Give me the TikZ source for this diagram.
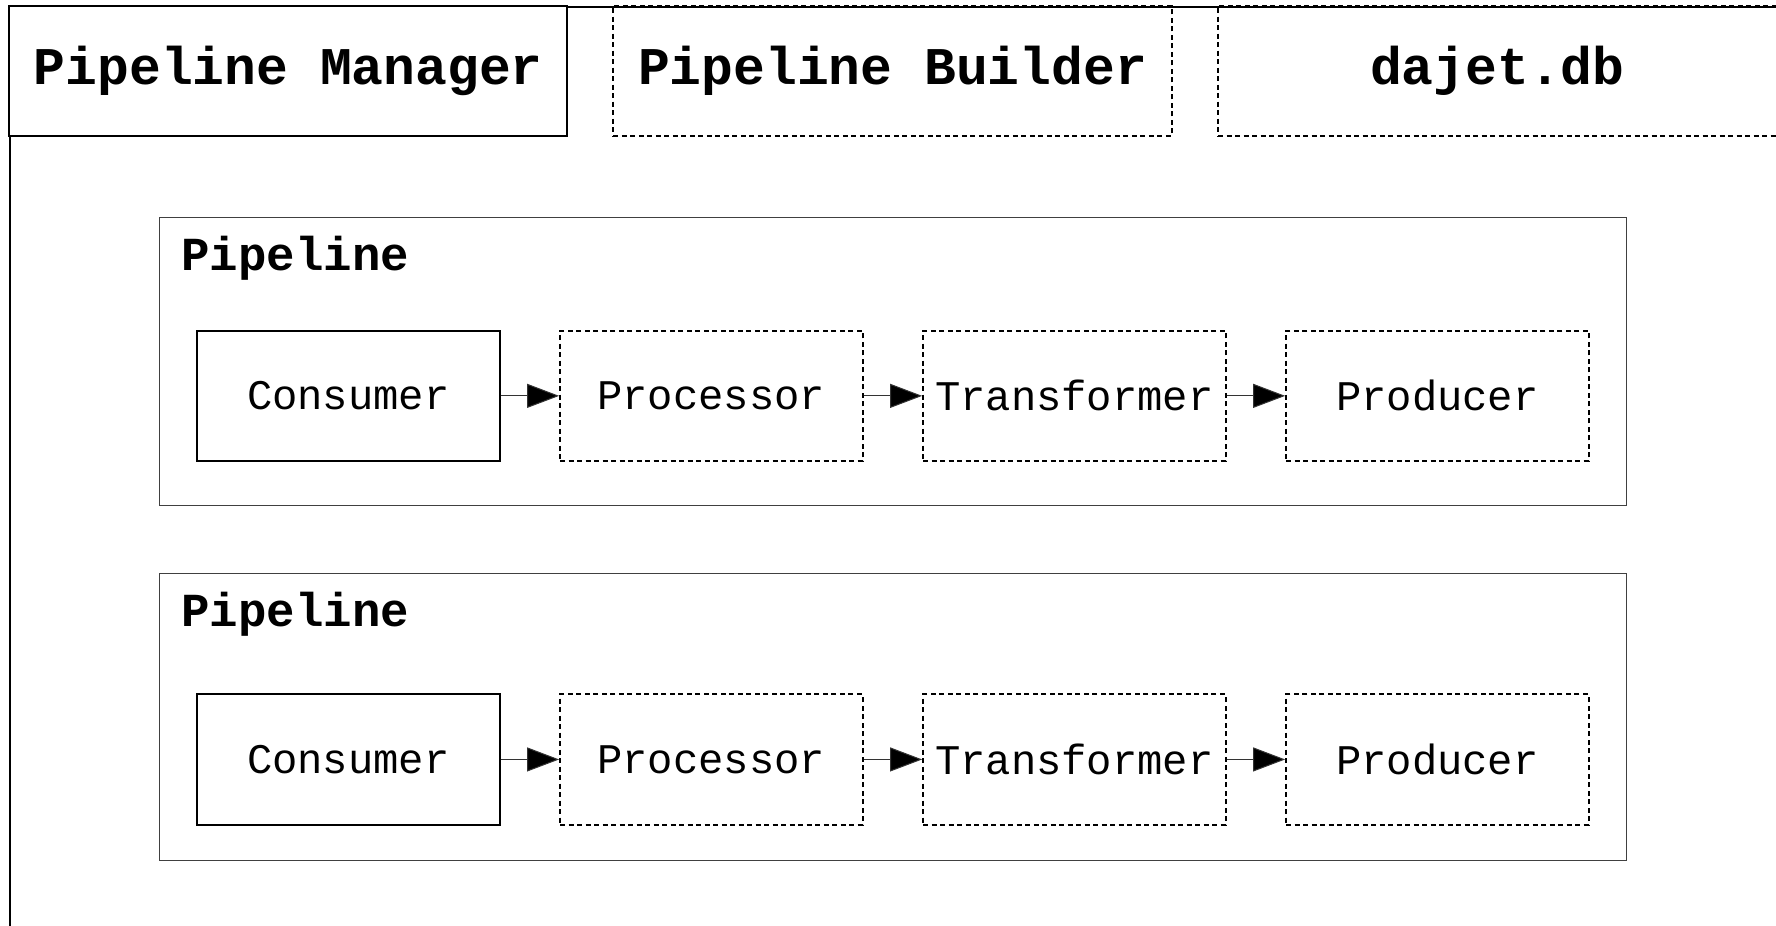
\documentclass[tikz,border=0pt]{standalone}
\usepackage{fontspec}
\setmainfont{Liberation Mono}
\usetikzlibrary{arrows.meta}
\begin{document}
\begin{tikzpicture}[x=1.1327pt,y=-1.1327pt,
  hdr/.style={draw=black,line width=2pt,minimum width=493*1.1327pt,minimum height=115*1.1327pt,inner sep=0pt,font=\fontsize{53}{60}\selectfont\bfseries},
  hdrdash/.style={hdr,dash pattern=on 5pt off 3.5pt},
  cont/.style={draw=black!75,line width=1.1pt,minimum width=1295*1.1327pt,minimum height=254*1.1327pt,inner sep=0pt},
  plabel/.style={anchor=west,inner sep=0pt,font=\fontsize{47.4}{52}\selectfont\bfseries},
  stage/.style={draw=black,line width=2pt,minimum width=267*1.1327pt,minimum height=115*1.1327pt,inner sep=0pt,font=\fontsize{42.2}{48}\selectfont},
  stagedash/.style={stage,dash pattern=on 5pt off 3.5pt},
  flow/.style={draw=black!80,line width=1pt,-{Triangle[length=32pt,width=24pt,fill=black]}}
]
\useasboundingbox (0,0) rectangle (1568,817);
\fill[white] (0,0) rectangle (1568,817);
% outer frame (extends past the page)
\node[draw=black,line width=2pt,minimum width=1700*1.1327pt,minimum height=950*1.1327pt,inner sep=0pt,anchor=north west] (outer) at (8,5) {};
% header boxes
\node[hdr,fill=white] (mgr) at (254.5,62.5) {\raisebox{-2pt}{Pipeline Manager}};
\node[hdrdash] (bld) at (788,62.5) {\raisebox{-2pt}{Pipeline Builder}};
\node[hdrdash] (db) at (1322,62.5) {\raisebox{-2pt}{dajet.db}};
% pipeline 1
\node[cont] (p1) at (788.5,319) {};
\node[plabel] (p1l) at (160,228) {Pipeline};
\node[stage] (c1) at (307.5,349.5) {Consumer};
\node[stagedash] (pr1) at (628,349.5) {Processor};
\node[stagedash] (t1) at (948.5,349.5) {Transformer};
\node[stagedash] (o1) at (1269,349.5) {Producer};
\draw[flow] (c1) -- (pr1);
\draw[flow] (pr1) -- (t1);
\draw[flow] (t1) -- (o1);
% pipeline 2
\node[cont] (p2) at (788.5,633) {};
\node[plabel] (p2l) at (160,542) {Pipeline};
\node[stage] (c2) at (307.5,670.5) {Consumer};
\node[stagedash] (pr2) at (628,670.5) {Processor};
\node[stagedash] (t2) at (948.5,670.5) {Transformer};
\node[stagedash] (o2) at (1269,670.5) {Producer};
\draw[flow] (c2) -- (pr2);
\draw[flow] (pr2) -- (t2);
\draw[flow] (t2) -- (o2);
\end{tikzpicture}
\end{document}
